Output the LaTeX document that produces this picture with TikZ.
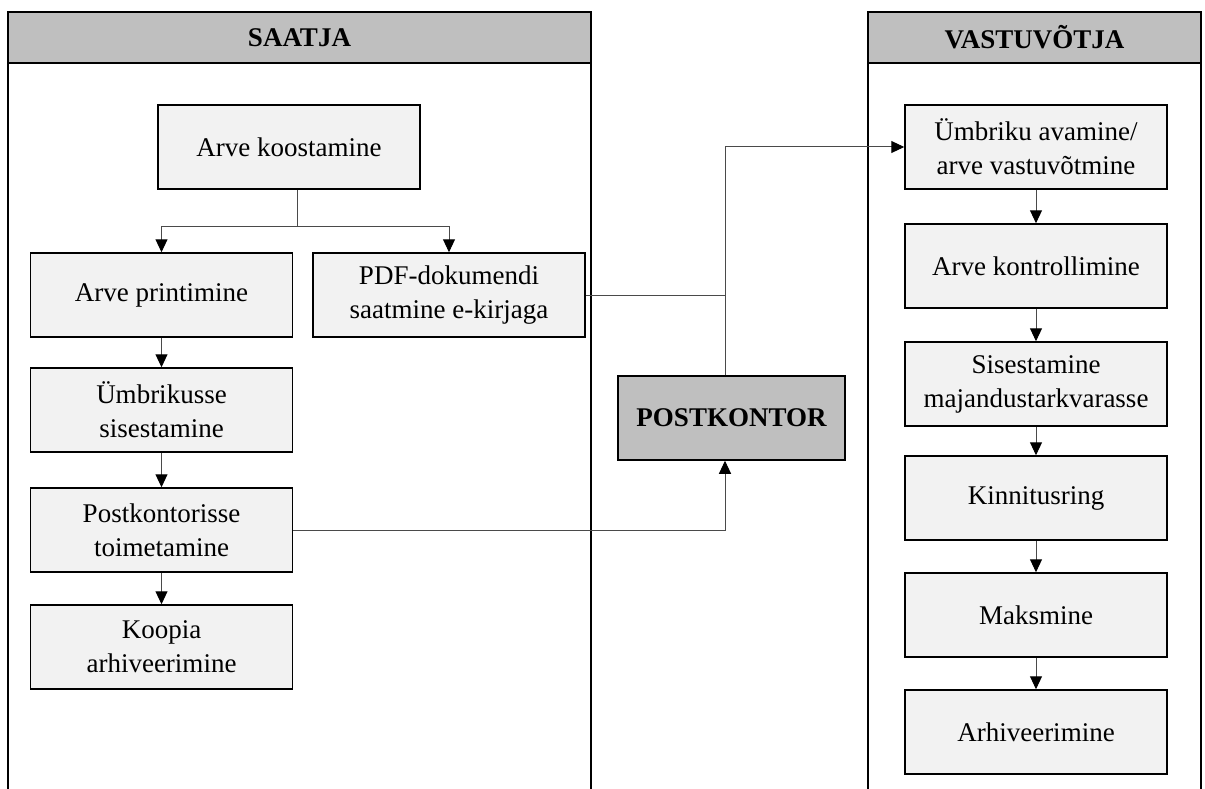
\documentclass[tikz,border=0pt]{standalone}
\usepackage{fontspec}
\setmainfont{Liberation Serif}
\usetikzlibrary{arrows.meta}
\definecolor{boxfill}{HTML}{F2F2F2}
\definecolor{headfill}{HTML}{BFBFBF}
\definecolor{linegray}{HTML}{4A4A4A}
\begin{document}
\begin{tikzpicture}[x=1pt,y=-1pt,
  stepbox/.style={draw=black,line width=1.5pt,fill=boxfill,minimum width=262pt,minimum height=84pt,align=center,inner sep=0pt,font=\fontsize{27}{34}\selectfont},
  headbox/.style={draw=black,line width=1.8pt,fill=headfill,minimum height=51pt,inner sep=0pt,font=\fontsize{27}{32}\selectfont\bfseries},
  conn/.style={draw=linegray,line width=1pt},
  arr/.style={conn,-{Triangle[width=12pt,length=13pt,color=black]}},
  panel/.style={draw=black,line width=1.8pt}]
\useasboundingbox (0,0) rectangle (1205,789);
% panels
\draw[panel] (8,789) -- (8,12) -- (591,12) -- (591,789);
\draw[panel] (868,789) -- (868,12) -- (1201,12) -- (1201,789);
\node[headbox,minimum width=583pt] (hs) at (299.5,37.5) {SAATJA};
\node[headbox,minimum width=333pt] (hv) at (1034.5,37.5) {VASTUVÕTJA};
% left column
\node[stepbox] (ak) at (289,147) {Arve koostamine};
\node[stepbox] (ap) at (161.5,295) {Arve printimine};
\node[stepbox,minimum width=272pt] (pdf) at (449,295) {PDF-dokumendi\\saatmine e-kirjaga};
\node[stepbox] (us) at (161.5,410) {Ümbrikusse\\sisestamine};
\node[stepbox] (pt) at (161.5,530) {Postkontorisse\\toimetamine};
\node[stepbox] (ka) at (161.5,647) {Koopia\\arhiveerimine};
% post office
\node[stepbox,fill=headfill,minimum width=227pt,minimum height=84pt,font=\fontsize{27}{32}\selectfont\bfseries] (po) at (731.5,418) {POSTKONTOR};
% right column
\node[stepbox] (r1) at (1036,147) {Ümbriku avamine/\\arve vastuvõtmine};
\node[stepbox] (r2) at (1036,266) {Arve kontrollimine};
\node[stepbox] (r3) at (1036,384) {Sisestamine\\majandustarkvarasse};
\node[stepbox] (r4) at (1036,498) {Kinnitusring};
\node[stepbox] (r5) at (1036,615) {Maksmine};
\node[stepbox] (r6) at (1036,732) {Arhiveerimine};
% connectors left
\coordinate (j1) at (297,226);
\draw[conn] (ak.south -| j1) -- (j1);
\draw[arr] (j1) -| (ap.north);
\draw[arr] (j1) -| (pdf.north);
\draw[arr] (ap) -- (us);
\draw[arr] (us) -- (pt);
\draw[arr] (pt) -- (ka);
% to post office and receiver
\coordinate (vx) at (725,0);
\draw[conn] (pdf.east) -- (pdf.east -| vx);
\draw[arr] (pt.east) -| (po.south -| vx);
\draw[arr] (po.north -| vx) |- (r1.west);
% right column
\draw[arr] (r1) -- (r2);
\draw[arr] (r2) -- (r3);
\draw[arr] (r3) -- (r4);
\draw[arr] (r4) -- (r5);
\draw[arr] (r5) -- (r6);
\end{tikzpicture}
\end{document}
